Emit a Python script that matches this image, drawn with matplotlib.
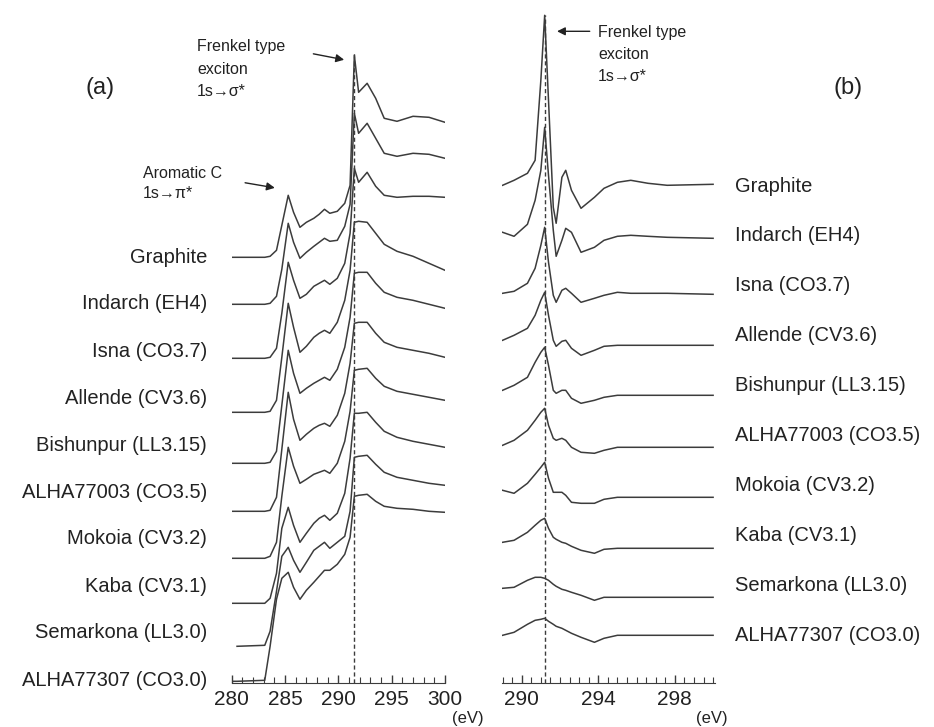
import numpy as np
import matplotlib.pyplot as plt
from matplotlib.ticker import MultipleLocator, FixedLocator

plt.rcParams['font.family'] = ['Liberation Sans', 'DejaVu Sans']

samples = ['Graphite', 'Indarch (EH4)', 'Isna (CO3.7)', 'Allende (CV3.6)',
           'Bishunpur (LL3.15)', 'ALHA77003 (CO3.5)', 'Mokoia (CV3.2)',
           'Kaba (CV3.1)', 'Semarkona (LL3.0)', 'ALHA77307 (CO3.0)']

# (a) C K-edge, 280-300 eV; intensity above each trace's own baseline (arb. units)
energy_a = [280, 280.5, 283.1, 283.6, 284.2, 284.7, 285.3, 285.8, 286.4, 287.0, 287.7,
            288.2, 288.7, 289.2, 289.9, 290.6, 291.1, 291.5, 291.9, 292.7, 293.5,
            294.3, 295.5, 297.0, 298.5, 300]
graphite_a = [0, 0, 0, 1, 7, 32, 62, 45, 30, 35, 39, 43, 48, 44, 46, 54, 72, 202, 165, 174, 159, 139, 136, 141, 140, 135]
indarch_a = [0, 0, 0, 1, 8, 35, 81, 62, 46, 52, 58, 62, 66, 63, 64, 78, 100, 191, 171, 181, 166, 151, 148, 151, 150, 146]
isna_a = [0, 0, 0, 1, 10, 45, 96, 78, 60, 64, 72, 75, 78, 74, 80, 95, 125, 190, 176, 186, 172, 163, 161, 162, 162, 161]
allende_a = [0, 0, 0, 1, 12, 55, 109, 85, 60, 66, 75, 79, 82, 79, 90, 112, 142, 190, 191, 190, 179, 168, 161, 156, 149, 142]
bishunpur_a = [0, 0, 0, 1, 12, 58, 113, 90, 70, 75, 80, 83, 86, 83, 94, 116, 146, 190, 191, 191, 180, 171, 166, 163, 159, 155]
alha77003_a = [0, 0, 0, 1, 14, 62, 119, 92, 71, 77, 83, 86, 88, 85, 96, 118, 148, 188, 189, 189, 178, 169, 164, 161, 158, 154]
mokoia_a = [0, 0, 0, 2, 16, 62, 111, 92, 75, 79, 84, 86, 88, 85, 95, 117, 147, 188, 189, 190, 180, 172, 167, 164, 161, 158]
kaba_a = [0, 0, 0, 5, 30, 75, 96, 78, 61, 70, 80, 85, 88, 83, 90, 110, 145, 190, 190, 191, 181, 172, 166, 162, 159, 156]
semarkona_a = [np.nan, 0, 1, 15, 55, 90, 99, 86, 74, 84, 96, 100, 104, 98, 104, 110, 135, 189, 190, 191, 182, 174, 169, 166, 163, 161]
alha77307_a = [0, 0, 1, 35, 82, 103, 109, 94, 82, 91, 99, 105, 111, 111, 117, 127, 144, 185, 186, 187, 180, 175, 173, 172, 170, 169]
offsets_a = [426, 379, 325, 271, 220, 172, 125, 80, 37, 2]

# (b) exciton region, 289-300 eV
energy_b = [289.0, 289.6, 290.3, 290.7, 291.0, 291.2, 291.4, 291.65, 291.8, 292.1,
            292.3, 292.6, 293.1, 293.8, 294.3, 295.0, 295.7, 296.6, 297.6, 300.0]
graphite_b = [0, 5, 12, 25, 105, 170, 85, -22, -38, 8, 15, -5, -23, -12, -3, 3, 5, 2, 0, 1]
indarch_b = [0, -4, 8, 32, 62, 105, 57, 2, -24, -8, 4, 0, -20, -15, -8, -4, -3, -4, -5, -6]
isna_b = [0, 2, 10, 25, 48, 66, 31, -2, -9, 3, 5, 0, -9, -5, -2, 1, 0, 0, 0, -1]
allende_b = [0, 5, 12, 25, 40, 48, 25, 0, -6, -1, 0, -8, -15, -10, -6, -5, -5, -5, -5, -5]
bishunpur_b = [0, 5, 13, 28, 38, 43, 25, 0, -3, 0, 0, -8, -13, -10, -7, -5, -5, -5, -5, -5]
alha77003_b = [0, 5, 15, 25, 33, 37, 20, 7, 5, 7, 5, -2, -7, -8, -5, -2, -2, -2, -2, -2]
mokoia_b = [0, -3, 7, 16, 23, 28, 12, -2, -2, -2, -5, -12, -13, -13, -9, -7, -7, -7, -7, -7]
kaba_b = [0, 2, 10, 17, 22, 24, 14, 5, 3, 0, -1, -4, -8, -11, -7, -6, -6, -6, -6, -6]
semarkona_b = [0, 1, 8, 11, 11, 10, 8, 4, 2, -1, -2, -4, -7, -12, -9, -9, -9, -9, -9, -9]
alha77307_b = [0, 3, 11, 15, 16, 17, 14, 11, 9, 7, 5, 2, -2, -7, -3, 0, 0, 0, 0, 0]
offsets_b = [498, 451, 390, 343, 293, 238, 193, 141, 95, 48]

exciton_a = 291.5
exciton_b = 291.2

spectra_a = [graphite_a, indarch_a, isna_a, allende_a, bishunpur_a,
             alha77003_a, mokoia_a, kaba_a, semarkona_a, alha77307_a]
spectra_b = [graphite_b, indarch_b, isna_b, allende_b, bishunpur_b,
             alha77003_b, mokoia_b, kaba_b, semarkona_b, alha77307_b]

W, H = 934, 727
fig = plt.figure(figsize=(W / 100, H / 100), dpi=100)
line_col = '#3c3c3c'
text_col = '#222222'


def fpos(x, y):
    # pixel position in the 934x727 picture -> figure fraction
    return x / W, 1 - y / H


ax_a = fig.add_axes([231.7 / W, 43.7 / H, 213.3 / W, 683.3 / H])
ax_b = fig.add_axes([502 / W, 43.7 / H, 213 / W, 683.3 / H])

for ax in (ax_a, ax_b):
    for side in ('top', 'left', 'right'):
        ax.spines[side].set_visible(False)
    ax.spines['bottom'].set_color(line_col)
    ax.set_ylim(0, 683.3)
    ax.set_yticks([])
    ax.patch.set_alpha(0)
    ax.tick_params(axis='x', which='major', direction='in', length=6, width=1,
                   colors=line_col, labelsize=15, pad=5, labelcolor=text_col)
    ax.tick_params(axis='x', which='minor', direction='in', length=4, width=0.8,
                   colors=line_col)

ax_a.set_xlim(280, 300)
ax_a.xaxis.set_major_locator(MultipleLocator(5))
ax_a.xaxis.set_minor_locator(MultipleLocator(1))

ax_b.set_xlim(288.97, 300.1)
ax_b.xaxis.set_major_locator(FixedLocator([290, 294, 298]))
ax_b.xaxis.set_minor_locator(MultipleLocator(0.5))

for vals, off in zip(spectra_a, offsets_a):
    ax_a.plot(energy_a, np.array(vals, dtype=float) + off, color=line_col, lw=1.1)
for vals, off in zip(spectra_b, offsets_b):
    ax_b.plot(energy_b, np.array(vals, dtype=float) + off, color=line_col, lw=1.1)

ax_a.plot([exciton_a, exciton_a], [0, 631], color=line_col, lw=1, ls=(0, (3, 2)))
ax_b.plot([exciton_b, exciton_b], [0, 668], color=line_col, lw=1, ls=(0, (3, 2)))

# sample labels
for i, name in enumerate(samples):
    fig.text(*fpos(207, 257 + i * 47.0), name, ha='right', va='center',
             fontsize=14.5, color=text_col)
    fig.text(*fpos(735, 186 + i * 49.9), name, ha='left', va='center',
             fontsize=14.5, color=text_col)

fig.text(*fpos(100, 88), '(a)', ha='center', va='center', fontsize=17, color=text_col)
fig.text(*fpos(848, 88), '(b)', ha='center', va='center', fontsize=17, color=text_col)

fig.text(*fpos(197, 39), 'Frenkel type\nexciton\n1s\u2192\u03c3*', ha='left', va='top',
         fontsize=11.5, linespacing=1.63, color=text_col)
fig.text(*fpos(143, 166), 'Aromatic C\n1s\u2192\u03c0*', ha='left', va='top',
         fontsize=11.5, linespacing=1.39, color=text_col)
fig.text(*fpos(598, 25), 'Frenkel type\nexciton\n1s\u2192\u03c3*', ha='left', va='top',
         fontsize=11.5, linespacing=1.58, color=text_col)

arrow = dict(arrowstyle='-|>', color=text_col, lw=1, mutation_scale=12)
ax_a.annotate('', xy=(290.8, 623), xytext=(287.4, 630), arrowprops=arrow)
ax_a.annotate('', xy=(284.3, 495), xytext=(281.0, 501), arrowprops=arrow)
ax_b.annotate('', xy=(291.7, 652), xytext=(293.7, 652), arrowprops=arrow)

fig.text(*fpos(468, 718), '(eV)', ha='center', va='center', fontsize=12, color=text_col)
fig.text(*fpos(712, 718), '(eV)', ha='center', va='center', fontsize=12, color=text_col)

fig.savefig('out.png', dpi=100)
